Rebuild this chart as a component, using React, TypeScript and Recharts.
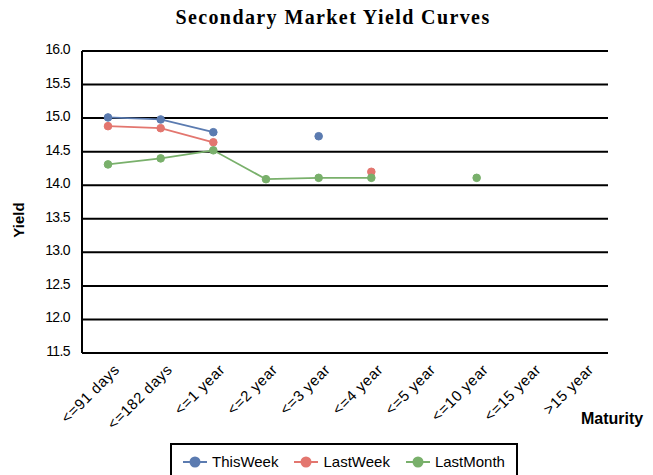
import { LineChart, Line, XAxis, YAxis, CartesianGrid, Legend } from "recharts";

const maturities = [
  "<=91 days", "<=182 days", "<=1 year", "<=2 year", "<=3 year",
  "<=4 year", "<=5 year", "<=10 year", "<=15 year", ">15 year",
];
const thisWeek = [15.01, 14.98, 14.79, null, 14.73, null, null, null, null, null];
const lastWeek = [14.88, 14.85, 14.64, null, null, 14.2, null, null, null, null];
const lastMonth = [14.31, 14.4, 14.52, 14.09, 14.11, 14.11, null, 14.11, null, null];
const yTicks = [11.5, 12, 12.5, 13, 13.5, 14, 14.5, 15, 15.5, 16];

const series = [
  { key: "ThisWeek", color: "#5b7bb0" },
  { key: "LastWeek", color: "#e3766f" },
  { key: "LastMonth", color: "#79b06b" },
];

const data = maturities.map((m, i) => ({
  m,
  ThisWeek: thisWeek[i],
  LastWeek: lastWeek[i],
  LastMonth: lastMonth[i],
}));

const font = "Arial, 'Liberation Sans', sans-serif";

const XTick = ({ x, y, payload }: any) => (
  <text
    x={x + 9}
    y={y + 6}
    transform={`rotate(-45 ${x + 9} ${y + 6})`}
    textAnchor="end"
    fontSize={15}
    fontFamily={font}
    letterSpacing={0.6}
    fill="#000"
    dy={5}
  >
    {payload.value}
  </text>
);

const YTick = ({ x, y, payload }: any) => (
  <text x={x - 4} y={y} dy={3} textAnchor="end" fontSize={14} fontFamily={font} letterSpacing={-0.6} fill="#000">
    {payload.value.toFixed(1)}
  </text>
);

const LegendBox = () => (
  <div
    style={{
      position: "absolute",
      left: 130,
      top: 0,
      width: 348,
      height: 40,
      borderTop: "2px solid #000",
      borderLeft: "2px solid #000",
      borderRight: "2px solid #000",
      display: "flex",
      alignItems: "flex-start",
      justifyContent: "center",
      gap: 16,
      paddingTop: 8,
      boxSizing: "border-box",
      fontFamily: font,
      fontSize: 15,
      letterSpacing: 0,
      color: "#000",
    }}
  >
    {series.map((s) => (
      <span key={s.key} style={{ display: "flex", alignItems: "center", gap: 5 }}>
        <svg width={24} height={14}>
          <line x1={0} y1={7} x2={24} y2={7} stroke={s.color} strokeWidth={2} />
          <circle cx={12} cy={7} r={5.5} fill={s.color} />
        </svg>
        {s.key}
      </span>
    ))}
  </div>
);

export default function App() {
  return (
    <div style={{ position: "absolute", left: 0, top: 0, width: 653, height: 475, background: "#fff" }}>
      <div
        style={{
          position: "absolute",
          top: 6,
          width: 653,
          textAlign: "center",
          fontFamily: "'Liberation Serif', 'Times New Roman', serif",
          fontWeight: "bold",
          fontSize: 20,
          letterSpacing: 1.4,
          paddingLeft: 13,
          boxSizing: "border-box",
        }}
      >
        Secondary Market Yield Curves
      </div>
      <LineChart width={653} height={475} data={data} margin={{ top: 51, right: 45, left: 40, bottom: 0 }}>
        <CartesianGrid vertical={false} stroke="#000" strokeWidth={2} />
        <XAxis
          dataKey="m"
          height={90}
          interval={0}
          padding={{ left: 26, right: 26 }}
          tick={<XTick />}
          tickLine={false}
          axisLine={{ stroke: "#000", strokeWidth: 2 }}
          label={({ viewBox }: any) => (
            <text
              x={viewBox.x + viewBox.width - 27}
              y={viewBox.y + 71}
              fontSize={16}
              fontWeight="bold"
              fontFamily={font}
              letterSpacing={0}
              fill="#000"
            >
              Maturity
            </text>
          )}
        />
        <YAxis
          domain={[11.5, 16]}
          ticks={yTicks}
          width={42}
          tick={<YTick />}
          tickLine={false}
          axisLine={{ stroke: "#000", strokeWidth: 2 }}
          label={({ viewBox }: any) => (
            <text
              x={19}
              y={viewBox.y + viewBox.height / 2 + 18}
              transform={`rotate(-90 19 ${viewBox.y + viewBox.height / 2 + 18})`}
              textAnchor="middle"
              dy={5}
              fontSize={15}
              fontWeight="bold"
              fontFamily={font}
              fill="#000"
            >
              Yield
            </text>
          )}
        />
        <YAxis
          yAxisId="r"
          orientation="right"
          width={0}
          tick={false}
          tickLine={false}
          axisLine={{ stroke: "#000", strokeWidth: 2 }}
        />
        {series.map((s) => (
          <Line
            key={s.key}
            dataKey={s.key}
            stroke={s.color}
            strokeWidth={1.8}
            dot={{ r: 3.8, fill: s.color, stroke: s.color, strokeWidth: 1 }}
            activeDot={false}
            connectNulls={false}
            isAnimationActive={false}
          />
        ))}
        <Legend verticalAlign="bottom" height={32} content={<LegendBox />} />
      </LineChart>
    </div>
  );
}
